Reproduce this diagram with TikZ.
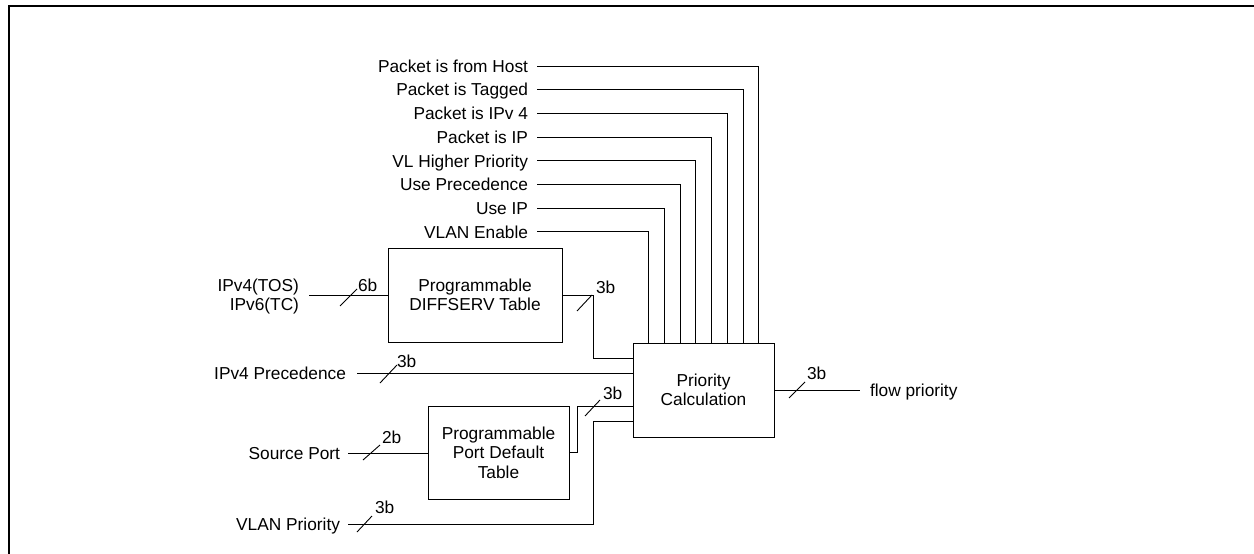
\documentclass[tikz,border=0pt]{standalone}
\usepackage{fontspec}
\setmainfont{Liberation Sans}
\begin{document}
\begin{tikzpicture}[x=1pt,y=-1pt, line width=1pt,
  lbl/.style={inner sep=0pt, outer sep=0pt, font=\fontsize{17.3}{19.5}\selectfont},
  blk/.style={draw, line width=1pt, inner sep=0pt, outer sep=0pt, align=center, font=\fontsize{17.3}{19.5}\selectfont},
  busmark/.style={line width=0.9pt},
  frameline/.style={line width=2pt}]
\useasboundingbox (0,0) rectangle (1254,554);
\draw[frameline] (9,554) -- (9,6) -- (1254,6);

% blocks
\node[blk, minimum width=174pt, minimum height=94pt] (ds) at (475,295) {Programmable\\DIFFSERV Table};
\node[blk, minimum width=141pt, minimum height=93pt] (pd) at (498.5,452.5) {Programmable\\Port Default\\Table};
\node[blk, minimum width=141pt, minimum height=94pt] (pc) at (703.5,390) {Priority\\Calculation};

% top control signals
\foreach \y/\dx/\t [count=\i] in {66/55.25/Packet is from Host, 89.7/39.5/Packet is Tagged, 113.4/23.75/Packet is IPv 4, 137.1/8/Packet is IP, 160.8/-7.75/VL Higher Priority, 184.5/-23.5/Use Precedence, 208.2/-39.25/Use IP, 231.9/-55/VLAN Enable} {
  \coordinate (s\i) at (537,\y);
  \node[lbl, anchor=base east] (l\i) at ([xshift=-9pt,yshift=-6.2pt]s\i) {\t};
  \draw (s\i) -| ([xshift=\dx pt]pc.north);
}

% left inputs
\node[lbl, anchor=east, align=right] (tos) at (299,296.7) {IPv4(TOS)\\IPv6(TC)};
\coordinate (tosA) at (309,295);
\draw (tosA) -- (ds.west);
\draw (ds.east) -- ++(31,0) |- ([yshift=32pt]pc.west);

\node[lbl, anchor=base east] (prec) at (346,379.2) {IPv4 Precedence};
\coordinate (precA) at (357,373);
\draw (precA) -- (precA -| pc.west);

\node[lbl, anchor=base east] (sp) at (340,459.2) {Source Port};
\coordinate (spA) at (348,453);
\draw (spA) -- (spA -| pd.west);
\draw (pd.east) -- ++(8,0) |- ([yshift=-16pt]pc.west);

\node[lbl, anchor=base east] (vp) at (340,530.2) {VLAN Priority};
\coordinate (vpA) at (348,524);
\draw (vpA) -- ++(245,0) |- ([yshift=-31pt]pc.west);

% output
\node[lbl, anchor=base west] (fp) at (870,396.2) {flow priority};
\draw (pc.east) -- ++(86,0) coordinate (fpA);

% bus width marks
\foreach \xa/\ya/\xb/\yb/\lx/\ly/\t [count=\j] in {340/306/357/289/358/291.2/6b, 577/311/592/295/596/293.2/3b, 380/383/397/365/397/367.2/3b, 363/460/380/445/382/443.2/2b, 585/416/600/400/603/399.2/3b, 357/532/372/516/375/513.2/3b, 789/398/805/382/807/379.2/3b} {
  \draw[busmark] (\xa,\ya) -- (\xb,\yb) coordinate (m\j);
  \node[lbl, anchor=base west] (w\j) at (\lx,\ly) {\t};
}
\end{tikzpicture}
\end{document}
